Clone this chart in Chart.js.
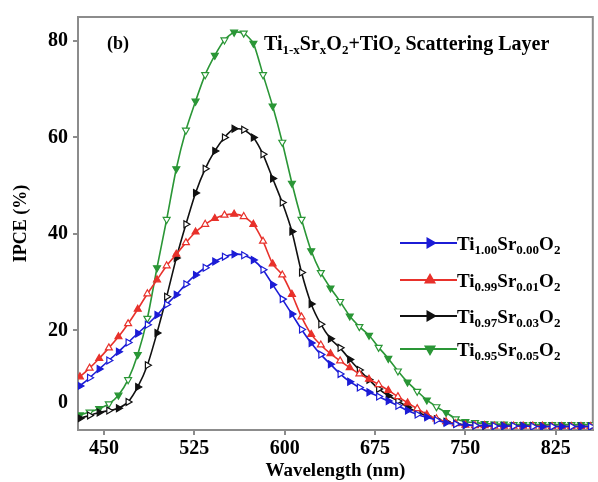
<!DOCTYPE html>
<html>
<head>
<meta charset="utf-8">
<script src="https://cdn.jsdelivr.net/npm/chart.js@4.4.1/dist/chart.umd.min.js"></script>
<style>
  html, body { margin: 0; padding: 0; background: #fff; }
  #ipceChart { display: block; }
</style>
</head>
<body>
<canvas id="ipceChart" width="598" height="482"></canvas>
<script>
// wavelength (nm)
const wavelengths = [430, 438, 446, 454, 462, 470, 478, 486, 494, 502, 510, 518, 526, 534, 542, 550, 558, 566,
    574, 582, 590, 598, 606, 614, 622, 630, 638, 646, 654, 662, 670, 678, 686, 694, 702, 710, 718, 726,
    734, 742, 750, 758, 766, 774, 782, 790, 798, 806, 814, 822, 830, 838, 846, 854];

// IPCE (%) per sample
const ipceSr000 = [8.5, 10.2, 12.0, 13.8, 15.6, 17.5, 19.4, 21.2, 23.2, 25.4, 27.4, 29.6, 31.5, 33.0, 34.3, 35.3, 35.8, 35.6,
    34.6, 32.6, 29.5, 26.5, 23.4, 20.2, 17.4, 15.0, 13.0, 11.0, 9.4, 8.2, 7.2, 6.3, 5.4, 4.4, 3.4, 2.6, 2.0, 1.4,
    0.9, 0.6, 0.4, 0.3, 0.3, 0.2, 0.2, 0.2, 0.2, 0.1, 0.1, 0.1, 0.1, 0.1, 0.1, 0.1];
const ipceSr001 = [10.4, 12.2, 14.2, 16.4, 18.7, 21.4, 24.4, 27.6, 30.5, 33.4, 35.8, 38.2, 40.4, 42.0, 43.2, 43.9, 44.1, 43.6,
    42.0, 38.5, 33.8, 31.5, 27.5, 22.8, 19.2, 17.0, 15.2, 13.7, 12.3, 11.0, 9.9, 8.8, 7.6, 6.3, 5.0, 3.8, 2.6, 1.7,
    1.1, 0.7, 0.4, 0.3, 0.3, 0.2, 0.2, 0.2, 0.2, 0.2, 0.2, 0.1, 0.1, 0.1, 0.1, 0.1];
const ipceSr003 = [1.8, 2.4, 3.0, 3.4, 3.9, 5.2, 8.3, 12.8, 19.5, 27.0, 35.0, 42.0, 48.5, 53.5, 57.2, 60.0, 61.8, 61.6,
    60.0, 56.5, 51.5, 46.5, 40.5, 32.0, 25.5, 21.3, 18.3, 16.4, 14.0, 11.8, 9.8, 7.9, 6.5, 5.4, 4.1, 3.1, 2.3, 1.6,
    1.1, 0.7, 0.4, 0.3, 0.2, 0.2, 0.2, 0.2, 0.2, 0.2, 0.1, 0.1, 0.1, 0.1, 0.1, 0.1];
const ipceSr005 = [2.5, 3.1, 3.8, 4.8, 6.6, 9.8, 15.0, 22.5, 33.0, 43.0, 53.5, 61.5, 67.5, 73.0, 77.0, 80.2, 81.8, 81.6,
    79.5, 73.0, 66.5, 59.0, 50.5, 43.0, 36.5, 32.0, 28.8, 26.0, 23.0, 20.8, 19.0, 16.5, 14.2, 11.6, 9.3, 7.4, 5.6, 4.2,
    3.0, 1.7, 1.1, 0.9, 0.7, 0.6, 0.6, 0.5, 0.5, 0.5, 0.5, 0.5, 0.5, 0.5, 0.5, 0.5];

const xTicks = [450, 525, 600, 675, 750, 825];
const yTicks = [5, 20, 40, 60, 80];   // the "0" label sits a bit above the baseline in the figure

const serif = "'Liberation Serif', 'Times New Roman', serif";

const series = [
    { label: [["Ti"], ["1.00", 1], ["Sr"], ["0.00", 1], ["O"], ["2", 1]], data: ipceSr000, color: "#1c1cd6", rotation: 90 },
    { label: [["Ti"], ["0.99", 1], ["Sr"], ["0.01", 1], ["O"], ["2", 1]], data: ipceSr001, color: "#e8312b", rotation: 0 },
    { label: [["Ti"], ["0.97", 1], ["Sr"], ["0.03", 1], ["O"], ["2", 1]], data: ipceSr003, color: "#111111", rotation: 90 },
    { label: [["Ti"], ["0.95", 1], ["Sr"], ["0.05", 1], ["O"], ["2", 1]], data: ipceSr005, color: "#2a9636", rotation: 180 },
];

function drawRich(ctx, parts, x, y, size) {
    let cx = x;
    parts.forEach(([t, sub]) => {
        const s = sub ? Math.round(size * 0.66) : size;
        ctx.font = `bold ${s}px ${serif}`;
        ctx.fillText(t, cx, sub ? y + Math.round(size * 0.22) : y);
        cx += ctx.measureText(t).width;
    });
}

const framePlugin = {
    id: "frame",
    beforeDatasetsDraw(chart) {
        const a = chart.chartArea, ctx = chart.ctx;
        ctx.save();
        ctx.strokeStyle = "#8c8c8c";
        ctx.lineWidth = 2;
        ctx.strokeRect(a.left, a.top, a.right - a.left, a.bottom - a.top);
        ctx.restore();
    }
};

const textPlugin = {
    id: "texts",
    afterDatasetsDraw(chart) {
        const ctx = chart.ctx;
        ctx.save();
        ctx.fillStyle = "#000";
        ctx.textBaseline = "alphabetic";
        ctx.textAlign = "left";
        ctx.font = `bold 18px ${serif}`;
        ctx.fillText("(b)", 107, 49);
        drawRich(ctx, [["Ti"], ["1-x", 1], ["Sr"], ["x", 1], ["O"], ["2", 1], ["+TiO"], ["2", 1], [" Scattering Layer"]], 264, 50, 20);

        const rows = [243, 280, 316, 349];
        series.forEach((s, i) => {
            const y = rows[i];
            ctx.strokeStyle = s.color;
            ctx.lineWidth = 2;
            ctx.beginPath();
            ctx.moveTo(400, y);
            ctx.lineTo(457, y);
            ctx.stroke();
            Chart.helpers.drawPoint(ctx, {
                pointStyle: "triangle", rotation: s.rotation, radius: 5, borderWidth: 1.5
            }, 430, y);
            ctx.fillStyle = s.color;
            ctx.fill();
            ctx.fillStyle = "#000";
            drawRich(ctx, s.label, 457, y + 7, 19);
        });
        ctx.restore();
    }
};

const ctx = document.getElementById("ipceChart").getContext("2d");
new Chart(ctx, {
    type: "line",
    data: {
        datasets: series.map((s) => ({
            data: wavelengths.map((w, i) => ({ x: w, y: s.data[i] })),
            borderColor: s.color,
            borderWidth: 1.6,
            tension: 0.2,
            pointStyle: "triangle",
            rotation: s.rotation,
            pointRadius: 4,
            pointBorderWidth: 1.2,
            pointBorderColor: s.color,
            pointBackgroundColor: wavelengths.map((w, i) => (i % 2 ? "#ffffff" : s.color)),
        })),
    },
    options: {
        responsive: false,
        animation: false,
        devicePixelRatio: 1,
        layout: { padding: { top: 15, right: 5, left: 0, bottom: 0 } },
        plugins: { legend: { display: false }, title: { display: false }, tooltip: { enabled: false } },
        scales: {
            x: {
                type: "linear", min: 428.4, max: 855.8,
                afterBuildTicks: (s) => { s.ticks = xTicks.map((v) => ({ value: v })); },
                afterFit: (s) => { s.height = 52; },
                ticks: { color: "#000", font: { family: serif, size: 20, weight: "bold" }, padding: 2, maxRotation: 0 },
                grid: { drawOnChartArea: false, tickLength: 5, color: "#8c8c8c", lineWidth: 2 },
                border: { color: "#8c8c8c", width: 2 },
                title: { display: true, text: "Wavelength (nm)", color: "#000", font: { family: serif, size: 19, weight: "bold" }, padding: { top: 0, bottom: 0 } },
            },
            y: {
                min: -0.62, max: 84.95,
                afterBuildTicks: (s) => { s.ticks = yTicks.map((v) => ({ value: v })); },
                afterFit: (s) => { s.width = 78; },
                ticks: { color: "#000", font: { family: serif, size: 20, weight: "bold" }, padding: 5, callback: (v) => (v === 5 ? "0" : v) },
                grid: {
                    drawOnChartArea: false, tickLength: 5, lineWidth: 2,
                    color: (c) => (c.tick && c.tick.value === 5 ? "rgba(0,0,0,0)" : "#8c8c8c"),
                },
                border: { color: "#8c8c8c", width: 2 },
                title: { display: true, text: "IPCE (%)", color: "#000", font: { family: serif, size: 18, weight: "bold" }, padding: { top: 11, bottom: 0 } },
            },
        },
    },
    plugins: [framePlugin, textPlugin],
});
</script>
</body>
</html>
